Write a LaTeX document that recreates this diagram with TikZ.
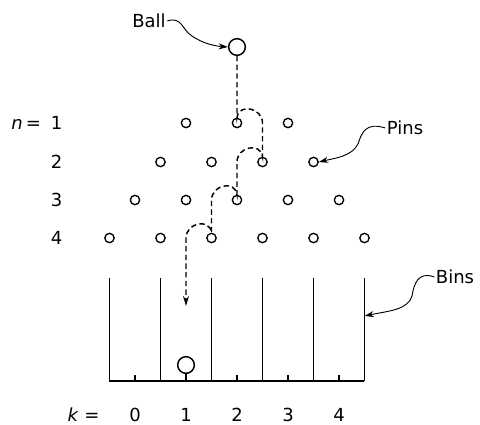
\documentclass[tikz,border=0pt]{standalone}
\usepackage{fontspec}
\setmainfont{DejaVu Sans}
\usetikzlibrary{arrows.meta}
\begin{document}
\begin{tikzpicture}[x=0.75pt,y=-0.75pt,
  every node/.style={font=\fontsize{13.5}{16}\selectfont},
  pin/.style={draw,circle,line width=1pt,minimum size=7pt,inner sep=0pt},
  ballnode/.style={draw,circle,line width=1.1pt,minimum size=12.5pt,inner sep=0pt},
  label/.style={inner sep=1pt},
  callout/.style={line width=0.7pt,-{Stealth[length=7pt,width=4.5pt]}},
  drop/.style={line width=1.1pt,dash pattern=on 4pt off 2.5pt,-{Stealth[length=7.5pt,width=4.5pt]}},
  wall/.style={line width=1.4pt}]
\useasboundingbox (0,0) rectangle (480,425);

% ball at the top
\node[ballnode] (ball) at (237,47) {};

% rows of pins, row n holds n+2 pins
\foreach \n/\y in {1/123,2/162,3/200,4/238}{
  \pgfmathtruncatemacro\m{\n+2}
  \foreach \j in {1,...,\m}{
    \node[pin] (p\n-\j) at ({237+51*(\j-(\n+3)/2)},\y) {};
  }
}

% row numbers
\node[label,anchor=east] (n1) at (64,123) {\textit{n}\,=\;\;1};
\node[label,anchor=east] (n2) at (64,162) {2};
\node[label,anchor=east] (n3) at (64,200) {3};
\node[label,anchor=east] (n4) at (64,238) {4};

% bins: walls, floor and centre marks
\foreach \i in {0,...,5}{
  \coordinate (w\i) at ({109.5+51*\i},381);
  \draw[wall] (w\i) -- ++(0,-103);
}
\draw[wall] (w0) -- (w5);
\foreach \i in {0,2,3,4}{
  \draw[line width=1pt] ({135+51*\i},381) -- ++(0,-6);
}
\node[ballnode] (binball) at (186,365) {};
\coordinate (stem) at (186,381);
\draw[line width=1pt] (stem) -- (binball.south);

% bin numbers
\node[label,anchor=east] (klabel) at (101,415) {\textit{k} =};
\foreach \i in {0,...,4}{
  \node[label] (k\i) at ({135+51*\i},415) {\i};
}

% path of the ball through the pins
\coordinate (binarrow) at (186,306);
\draw[drop] (ball.south) -- (p1-2.north)
  .. controls +(2,-15) and +(0,-15) .. (p2-3 |- p1-2) -- (p2-3.north)
  .. controls +(-2,-15) and +(0,-15) .. (p3-3 |- p2-3) -- (p3-3.north)
  .. controls +(-2,-15) and +(0,-15) .. (p4-3 |- p3-3) -- (p4-3.north)
  .. controls +(-2,-15) and +(0,-15) .. (binarrow |- p4-3) -- (binarrow);

% labels with pointers
\node[label] (balllabel) at (149,21) {Ball};
\draw[callout] (balllabel.east) .. controls (182,16) and (182,30) .. (192,36)
  .. controls (202,43) and (214,46) .. (ball.west);

\node[label] (pinslabel) at (405,128) {Pins};
\draw[callout] (pinslabel.west) .. controls (366,122) and (362,132) .. (358,144)
  .. controls (352,156) and (336,158) .. (p2-4.east);

\coordinate (binmark) at (w5 |- 0,316);
\node[label] (binslabel) at (455,277) {Bins};
\draw[callout] (binslabel.west) .. controls (418,271) and (414,284) .. (412,296)
  .. controls (408,310) and (388,311) .. (binmark);
\end{tikzpicture}
\end{document}
